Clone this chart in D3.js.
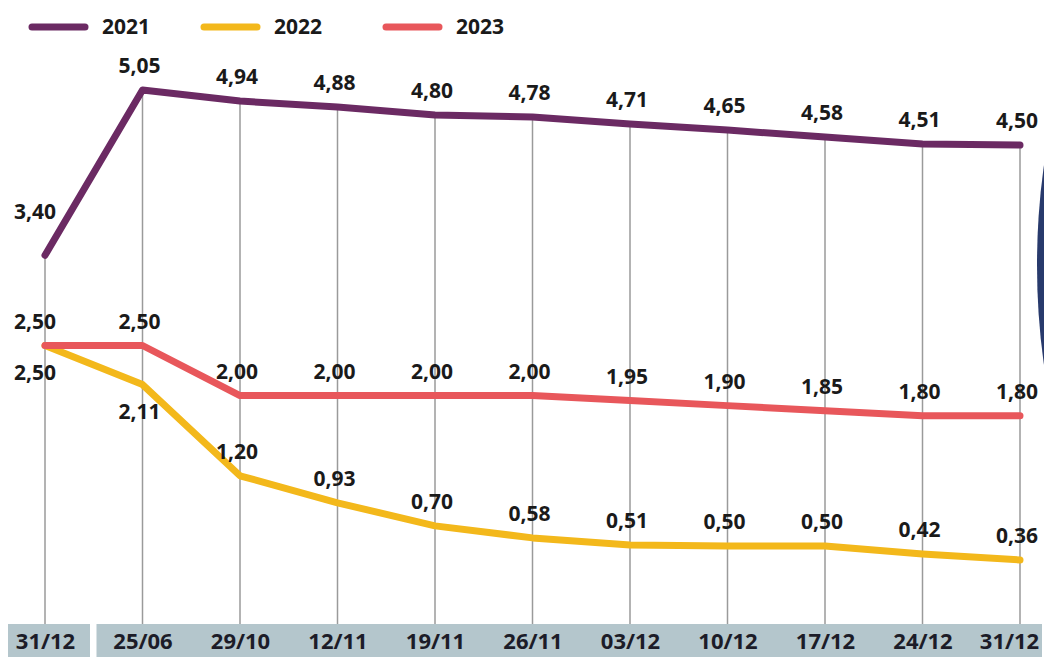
<!DOCTYPE html>
<html>
<head>
<meta charset="utf-8">
<script src="https://cdn.jsdelivr.net/npm/d3@7"></script>
<style>
  html, body { margin: 0; padding: 0; background: #fff; }
  svg { display: block; font-family: "Open Sans", "DejaVu Sans", sans-serif; }
</style>
</head>
<body>
<svg id="chart" width="1044" height="663"></svg>
<script>
// ---- data ----
const categories = ["31/12", "25/06", "29/10", "12/11", "19/11", "26/11", "03/12", "10/12", "17/12", "24/12", "31/12"];
const values2021 = [3.40, 5.05, 4.94, 4.88, 4.80, 4.78, 4.71, 4.65, 4.58, 4.51, 4.50];
const values2022 = [2.50, 2.11, 1.20, 0.93, 0.70, 0.58, 0.51, 0.50, 0.50, 0.42, 0.36];
const values2023 = [2.50, 2.50, 2.00, 2.00, 2.00, 2.00, 1.95, 1.90, 1.85, 1.80, 1.80];
const seriesNames = ["2021", "2022", "2023"];

// ---- styles ----
const colors = { "2021": "#6b2a63", "2022": "#f3b81b", "2023": "#e8575b" };
const series = [
  { name: seriesNames[0], values: values2021 },
  { name: seriesNames[1], values: values2022 },
  { name: seriesNames[2], values: values2023 }
];

const svg = d3.select("#chart");

const x = d3.scalePoint().domain(d3.range(categories.length)).range([45, 1020]);
const y = d3.scaleLinear().domain([0, 5.05]).range([596, 90]);

const bandTop = 624, bandBottom = 657;

// decorative ellipse at right edge
svg.append("ellipse")
  .attr("cx", 1121).attr("cy", 265).attr("rx", 84).attr("ry", 250)
  .attr("fill", "#283a6c");

// vertical grid lines from top series point down to the band
const maxAt = categories.map((c, i) => d3.max(series, s => s.values[i]));
svg.append("g").selectAll("line")
  .data(categories.map((c, i) => i))
  .join("line")
  .attr("x1", i => x(i)).attr("x2", i => x(i))
  .attr("y1", i => y(maxAt[i])).attr("y2", bandTop)
  .attr("stroke", "#9a9a9a").attr("stroke-width", 1.5);

// axis band
svg.append("rect")
  .attr("x", x(0) - 37).attr("y", bandTop)
  .attr("width", 82).attr("height", bandBottom - bandTop)
  .attr("fill", "#b4c6cc");
svg.append("rect")
  .attr("x", x(1) - 46).attr("y", bandTop)
  .attr("width", 1042 - (x(1) - 46)).attr("height", bandBottom - bandTop)
  .attr("fill", "#b4c6cc");

const axis = d3.axisBottom(x).tickSize(0).tickPadding(0).tickFormat(i => categories[i]);
const gAxis = svg.append("g").attr("transform", `translate(0,${bandTop + 25})`).call(axis);
gAxis.select(".domain").remove();
gAxis.selectAll("text")
  .attr("dy", 0)
  .attr("dx", (d, i) => (i === categories.length - 1 ? -11 : 0))
  .attr("font-size", 22).attr("font-weight", 700)
  .attr("fill", "#1c1c28")
  .attr("font-family", "'Open Sans', sans-serif");

// lines
const line = d3.line().x((d, i) => x(i)).y(d => y(d)).curve(d3.curveLinear);
svg.append("g").selectAll("path")
  .data([series[1], series[2], series[0]])
  .join("path")
  .attr("d", s => line(s.values))
  .attr("fill", "none")
  .attr("stroke", s => colors[s.name])
  .attr("stroke-width", 7)
  .attr("stroke-linejoin", "round")
  .attr("stroke-linecap", "round");

// labels
const fmt = v => d3.format(".2f")(v).replace(".", ",");
series.forEach(s => {
  svg.append("g").selectAll("text")
    .data(s.values.map((v, i) => ({ v, i })))
    .join("text")
    .attr("x", d => x(d.i) - (d.i === 0 ? 10 : 3))
    .attr("y", d => {
      if (s.name === "2022" && d.i <= 1) return y(d.v) + 34;
      if (s.name === "2021" && d.i === 0) return y(d.v) - 36;
      return y(d.v) - 17;
    })
    .attr("text-anchor", "middle")
    .attr("font-size", 21).attr("font-weight", 700)
    .attr("fill", "#1a1a1a")
    .text(d => fmt(d.v));
});

// legend
const legendX = [32, 204, 386];
const lg = svg.append("g");
series.forEach((s, k) => {
  lg.append("line")
    .attr("x1", legendX[k]).attr("x2", legendX[k] + 53)
    .attr("y1", 27).attr("y2", 27)
    .attr("stroke", colors[s.name]).attr("stroke-width", 7)
    .attr("stroke-linecap", "round");
  lg.append("text")
    .attr("x", legendX[k] + 70).attr("y", 34)
    .attr("font-size", 21).attr("font-weight", 700)
    .attr("fill", "#1a1a1a")
    .text(s.name);
});
</script>
</body>
</html>
